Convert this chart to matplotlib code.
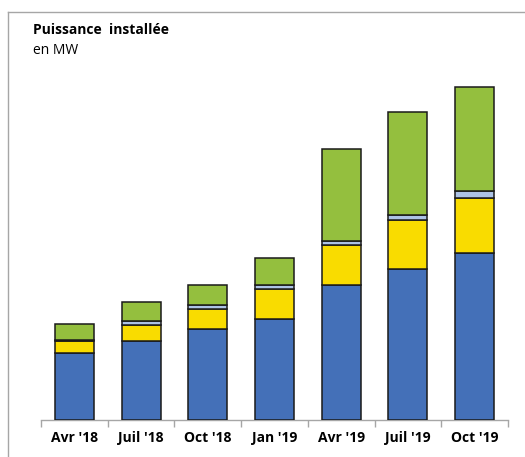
import matplotlib
matplotlib.use("Agg")
import matplotlib.pyplot as plt
import numpy as np
from matplotlib.lines import Line2D

categories = ["Avr '18", "Juil '18", "Oct '18", "Jan '19", "Avr '19", "Juil '19", "Oct '19"]
blue = [670, 790, 910, 1010, 1350, 1510, 1670]
yellow = [120, 160, 200, 300, 400, 490, 550]
lightblue = [10, 45, 45, 40, 45, 55, 70]
green = [160, 190, 200, 270, 920, 1030, 1040]

colors = ["#4470B8", "#F9DC00", "#ADC3E6", "#94BF3E"]

W, H = 525, 457
fig = plt.figure(figsize=(W/100, H/100), dpi=100)
ax = fig.add_axes([41/W, (H-420)/H, (508-41)/W, (420-60)/H])

x = np.arange(len(categories))
bottom = np.zeros(len(categories))
for vals, c in zip([blue, yellow, lightblue, green], colors):
    ax.bar(x, vals, width=0.585, bottom=bottom, color=c, edgecolor="#1a1a1a", linewidth=1.1, zorder=3)
    bottom += np.array(vals)

ax.set_xlim(-0.5, len(categories)-0.5)
ax.set_ylim(0, 3600)
for s in ["top", "right", "left"]:
    ax.spines[s].set_visible(False)
ax.spines["bottom"].set_color("#A6A6A6")
ax.spines["bottom"].set_linewidth(1.0)
ax.set_yticks([])
ax.set_xticks(x)
ax.set_xticklabels(categories, fontfamily="Open Sans", fontweight="bold", fontsize=10)
ax.tick_params(axis="x", which="major", length=0, pad=8)
ax.set_xticks(np.arange(-0.5, len(categories)), minor=True)
ax.tick_params(axis="x", which="minor", length=5, color="#A6A6A6", width=1.0)

fig.text(33/W, 1-30/H, "Puissance  installée", fontfamily="Open Sans", fontweight="bold", fontsize=10, va="center", ha="left")
fig.text(33/W, 1-50/H, "en MW", fontfamily="Open Sans", fontsize=10, va="center", ha="left")

fig.add_artist(Line2D([7.5/W, 7.5/W], [0, 1-12/H], color="#A6A6A6", linewidth=1.0, transform=fig.transFigure))
fig.add_artist(Line2D([7.5/W, 1], [1-12/H, 1-12/H], color="#A6A6A6", linewidth=1.0, transform=fig.transFigure))

fig.savefig("out.png", dpi=100)
